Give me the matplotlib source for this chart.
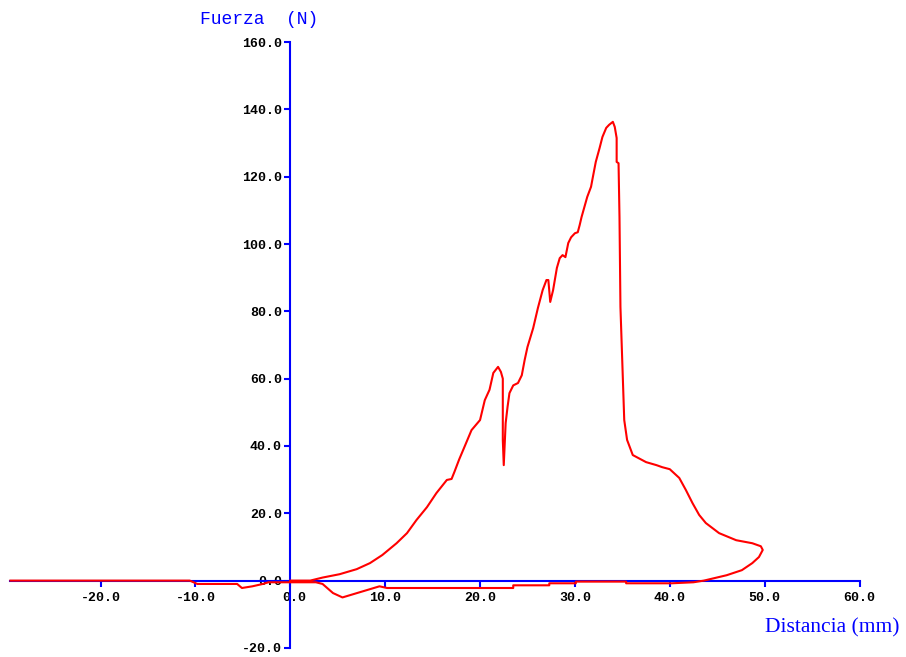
import numpy as np
from matplotlib import pyplot as plt
from matplotlib.transforms import ScaledTranslation

#---------------------------------DATA----------------------------------------------------------------
# distance (mm) / force (N) trace, in drawing order:
# loading from origin, peak, unloading loop, return branch, baseline to the left
dist = [0.0, 2.1, 3.4, 5.2, 7.0, 8.4, 9.7, 11.2, 12.3, 13.3, 14.4, 15.4, 16.5, 17.0, 17.3,
        17.8, 18.4, 19.1, 20.0, 20.5, 21.0, 21.4, 21.9, 22.2, 22.4, 22.4, 22.5, 22.7, 22.9,
        23.1, 23.5, 24.0, 24.4, 24.7, 25.0, 25.6, 26.1, 26.6, 27.0, 27.2, 27.4, 27.7, 28.1,
        28.4, 28.7, 29.0, 29.3, 29.6, 30.0, 30.3, 30.5, 30.7, 31.0, 31.3, 31.7, 31.9, 32.2,
        32.6, 32.9, 33.3, 33.6, 34.0, 34.2, 34.4, 34.4, 34.6, 34.7, 34.8, 35.2, 35.5, 36.1,
        37.5, 38.6, 39.2, 40.0, 41.0, 41.7, 42.4, 43.1, 43.8, 45.2, 47.0, 48.7, 49.6, 49.8,
        49.4, 48.7, 47.6, 46.0, 44.2, 43.6,
        42.5, 40.2, 35.4, 35.4, 30.1, 30.1, 27.3, 27.3, 23.5, 23.5, 10.2, 9.4, 5.5, 4.5,
        3.4, 2.7, -2.3, -2.9, -4.0, -5.1, -5.6, -9.8, -10.6, -29.5]
force = [0.0, 0.0, 0.9, 1.9, 3.4, 5.2, 7.6, 11.1, 14.1, 18.0, 21.8, 26.0, 29.9, 30.2, 32.3,
         36.0, 40.0, 44.7, 47.7, 53.6, 56.7, 61.7, 63.5, 62.0, 60.0, 41.8, 34.3, 46.8, 51.6,
         55.7, 58.0, 58.7, 61.0, 65.5, 69.4, 75.0, 81.0, 86.3, 89.3, 89.3, 82.8, 86.3, 92.9,
         95.8, 96.7, 96.1, 100.3, 102.0, 103.2, 103.5, 105.6, 108.0, 111.0, 114.0, 117.0, 120.0, 124.4,
         128.5, 131.8, 134.5, 135.4, 136.3, 134.8, 131.5, 124.4, 124.0, 108.0, 81.3, 47.7, 41.8, 37.3,
         35.2, 34.3, 33.7, 33.1, 30.5, 26.9, 23.0, 19.5, 17.1, 14.1, 12.0, 11.1, 10.2, 9.1,
         7.0, 5.2, 3.1, 1.6, 0.4, 0.0,
         -0.5, -0.8, -0.8, -0.3, -0.3, -0.8, -0.8, -1.4, -1.4, -2.2, -2.2, -1.7, -5.0, -3.7,
         -1.0, -0.5, -0.5, -1.0, -1.7, -2.2, -1.0, -1.0, 0.0, 0.0]

xticks = [-20, -10, 0, 10, 20, 30, 40, 50, 60]
yticks = [-20, 0, 20, 40, 60, 80, 100, 120, 140, 160]

#---------------------------------PLOT----------------------------------------------------------------
fig = plt.figure(figsize=(9.06, 6.57), dpi=100)
ax = fig.add_axes([0, 0, 1, 1])
ax.set_xlim(-30.6, 64.9)
ax.set_ylim(-22.7, 172.5)

ax.plot(dist, force, color='#ff0000', lw=1.5, zorder=3)

for s in ['top', 'right']:
    ax.spines[s].set_visible(False)
for s in ['left', 'bottom']:
    ax.spines[s].set_position(('data', 0))
    ax.spines[s].set_color('#0000ff')
    ax.spines[s].set_linewidth(1.5)
ax.spines['left'].set_bounds(-20, 160)
ax.spines['bottom'].set_bounds(-29.5, 60)

ax.set_xticks(xticks)
ax.set_xticklabels(['%.1f' % v for v in xticks])
ax.set_yticks(yticks)
ax.set_yticklabels(['%.1f' % v for v in yticks])
ax.tick_params(axis='both', colors='#0000ff', labelcolor='black', width=1.5, length=4,
               direction='out', labelsize=9.5)
ax.tick_params(axis='x', pad=4)
ax.tick_params(axis='y', pad=2)
for lab in ax.get_xticklabels() + ax.get_yticklabels():
    lab.set_family('Liberation Mono')
    lab.set_fontweight('bold')

# nudge the x "0.0" label right so the y axis line does not hide its point
zero_lab = ax.get_xticklabels()[xticks.index(0)]
zero_lab.set_transform(zero_lab.get_transform() + ScaledTranslation(4 / 100, 0, fig.dpi_scale_trans))

fig.text(259 / 906, 1 - 20 / 657, 'Fuerza  (N)', color='#0000ff', fontsize=13,
         family='Liberation Mono', ha='center', va='center')
fig.text(832 / 906, 1 - 628 / 657, 'Distancia (mm)', color='#0000ff', fontsize=15.5,
         family='Liberation Serif', ha='center', va='center')

plt.savefig('out.png', dpi=100)
